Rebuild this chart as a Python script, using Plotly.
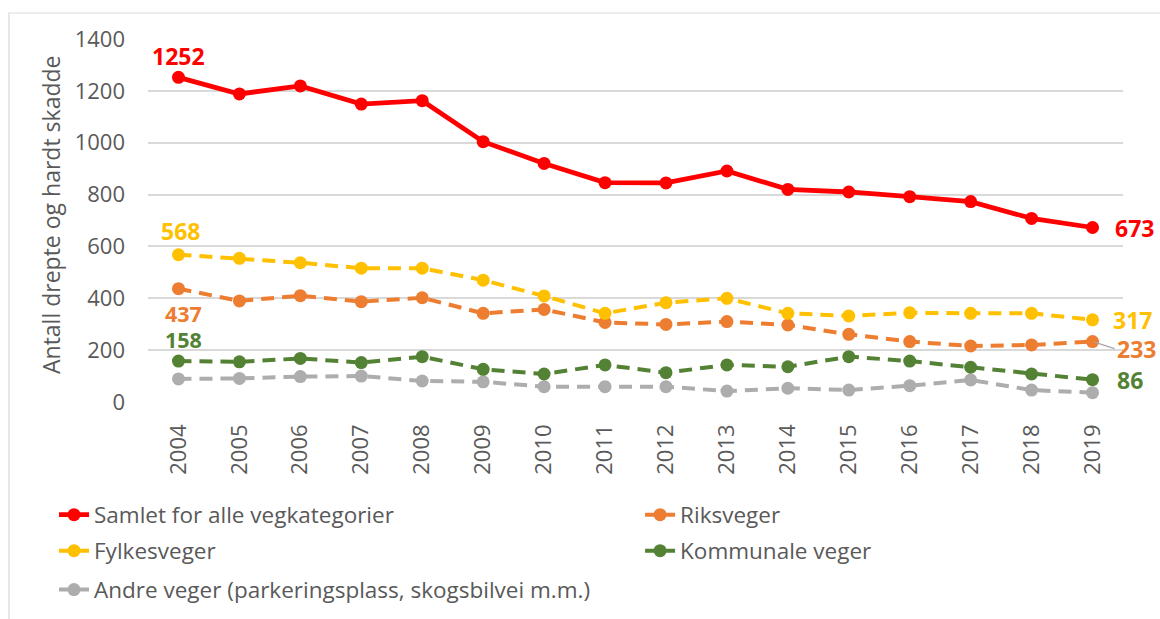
import plotly.graph_objects as go

years = [str(y) for y in range(2004, 2020)]
samlet = [1252, 1188, 1219, 1149, 1162, 1004, 920, 846, 845, 891, 820, 810, 792, 773, 708, 673]
riksveger = [437, 390, 410, 387, 402, 342, 357, 307, 299, 310, 297, 261, 233, 216, 220, 233]
fylkesveger = [568, 554, 537, 516, 516, 470, 409, 342, 383, 400, 342, 332, 344, 342, 342, 317]
kommunale = [158, 155, 168, 152, 175, 126, 108, 143, 113, 143, 136, 175, 158, 134, 108, 86]
andre = [89, 91, 98, 100, 81, 78, 59, 59, 59, 42, 53, 46, 63, 85, 46, 36]

names = ["Samlet for alle vegkategorier", "Riksveger", "Fylkesveger",
         "Kommunale veger", "Andre veger (parkeringsplass, skogsbilvei m.m.)"]
colors = ["#FF0000", "#ED7D31", "#FFC000", "#548235", "#ADADAD"]
series = [samlet, riksveger, fylkesveger, kommunale, andre]
legend_ids = ["legend", "legend2", "legend3", "legend4", "legend5"]

FONT = "Open Sans"
TXT = "#595959"
FS_TICK = 22
FS_LAB = 23
FS_LEG = 22.5

fig = go.Figure()
# draw order: gray first so red on top
for i in [4, 3, 1, 2, 0]:
    fig.add_trace(go.Scatter(
        x=years, y=series[i], name=names[i], mode="lines+markers",
        line=dict(color=colors[i], width=4.8 if i == 0 else 4,
                  dash="solid" if i == 0 else "13px,8px"),
        marker=dict(color=colors[i], size=13, symbol="circle"),
        legend=legend_ids[i],
        hoverinfo="skip",
    ))

first, last = 0, len(years) - 1
ann = []
# start labels
ann.append(dict(x=first, y=samlet[0], text="<b>%d</b>" % samlet[0], yshift=21,
                font=dict(color=colors[0], size=FS_LAB)))
ann.append(dict(x=first, y=fylkesveger[0], text="<b>%d</b>" % fylkesveger[0], yshift=24, xshift=2,
                font=dict(color=colors[2], size=FS_LAB)))
ann.append(dict(x=first, y=riksveger[0], text="<b>%d</b>" % riksveger[0], yshift=-24, xshift=5,
                font=dict(color=colors[1], size=21.5)))
ann.append(dict(x=first, y=kommunale[0], text="<b>%d</b>" % kommunale[0], yshift=22, xshift=5,
                font=dict(color=colors[3], size=21.5)))
# end labels
ann.append(dict(x=last, y=samlet[-1], text="<b>%d</b>" % samlet[-1], xanchor="left", xshift=20,
                font=dict(color=colors[0], size=FS_LAB)))
ann.append(dict(x=last, y=fylkesveger[-1], text="<b>%d</b>" % fylkesveger[-1], xanchor="left", xshift=18,
                font=dict(color=colors[2], size=FS_LAB)))
ann.append(dict(x=last, y=kommunale[-1], text="<b>%d</b>" % kommunale[-1], xanchor="left", xshift=22,
                font=dict(color=colors[3], size=FS_LAB)))
for a in ann:
    a.update(showarrow=False, xref="x", yref="y", height=20)
    a["font"].update(family=FONT)
ann.append(dict(x=last, y=riksveger[-1], text="<b>%d</b>" % riksveger[-1], xref="x", yref="y",
                showarrow=True, arrowhead=0, arrowwidth=1.2, arrowcolor="#A6A6A6",
                ax=22, ay=7, xanchor="left", standoff=2, height=20,
                font=dict(color=colors[1], family=FONT, size=FS_LAB)))
# y axis title
ann.append(dict(x=-0.118, y=0.515, xref="paper", yref="paper", showarrow=False,
                text="Antall drepte og hardt skadde", textangle=-90,
                font=dict(family=FONT, size=FS_LAB, color=TXT)))

leg_pos = {
    "legend": (-0.0964, -0.3113),
    "legend2": (0.5047, -0.3113),
    "legend3": (-0.0964, -0.4105),
    "legend4": (0.5047, -0.4105),
    "legend5": (-0.0964, -0.5179),
}
leg_layout = {}
for k, (lx, ly) in leg_pos.items():
    leg_layout[k] = dict(x=lx, y=ly, xanchor="left", yanchor="middle", orientation="v",
                         font=dict(family=FONT, size=FS_LEG, color=TXT),
                         bgcolor="rgba(0,0,0,0)", borderwidth=0)

fig.update_layout(
    width=1160, height=619,
    margin=dict(l=148, r=37, t=39, b=217, autoexpand=False),
    paper_bgcolor="white", plot_bgcolor="white",
    font=dict(family=FONT, size=FS_TICK, color=TXT),
    annotations=ann,
    showlegend=True,
    shapes=[dict(type="rect", xref="paper", yref="paper",
                 x0=-0.1426, x1=1.05, y0=-0.63, y1=1.0716,
                 line=dict(color="#D9D9D9", width=1.2), fillcolor="rgba(0,0,0,0)", layer="below")],
    xaxis=dict(type="category", range=[-0.5, 15.5], tickangle=-90, showgrid=False,
               showline=False, zeroline=False, ticks="", ticklabelstandoff=17,
               tickfont=dict(family=FONT, size=FS_TICK, color=TXT)),
    yaxis=dict(range=[0, 1400], dtick=200, showgrid=True, gridcolor="#D9D9D9", gridwidth=1.5,
               zeroline=False, showline=False, ticks="", ticklabelstandoff=22,
               tickfont=dict(family=FONT, size=FS_TICK, color=TXT)),
    **leg_layout,
)

# remove the default 8px page margin so the 1160x619 figure fills the window exactly
fig.write_html("out.html", config={"displayModeBar": False},
               post_script="document.body.style.margin='0';document.body.style.overflow='hidden';")
